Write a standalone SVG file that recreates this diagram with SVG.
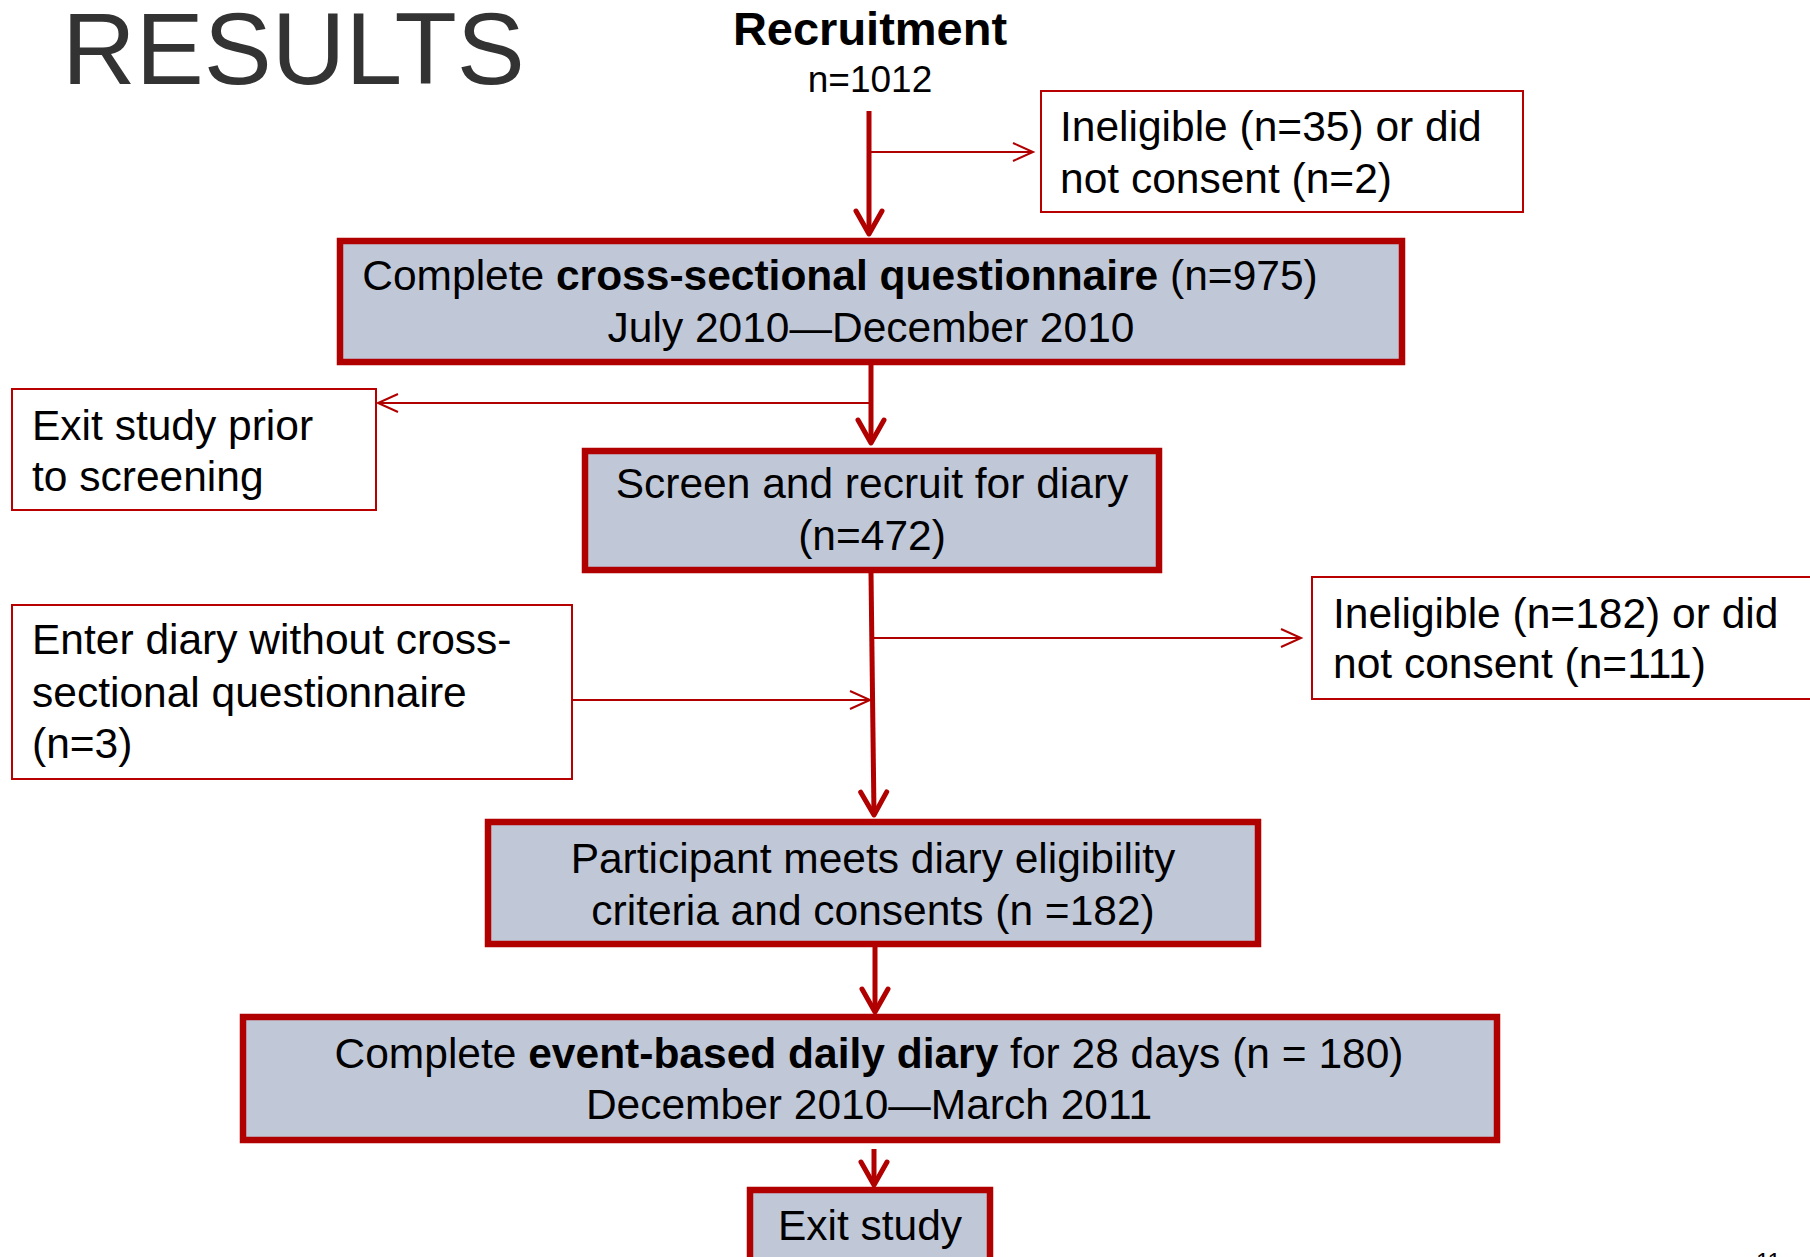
<svg xmlns="http://www.w3.org/2000/svg" width="1810" height="1257" viewBox="0 0 1810 1257">
<style>
text{font-family:"Liberation Sans",Arial,sans-serif;fill:#000}
.t{font-size:42.5px}
.b{font-weight:bold}
.main{fill:#C0C8D8;stroke:#B00000;stroke-width:6.5}
.side{fill:#FFFFFF;stroke:#B80000;stroke-width:2}
.thick{stroke:#B00000;stroke-width:5;fill:none}
.thin{stroke:#B00000;stroke-width:2;fill:none}
</style>
<defs>
<marker id="ah" markerUnits="userSpaceOnUse" viewBox="-30 -20 34 40" refX="0" refY="0" markerWidth="34" markerHeight="40" orient="auto">
<path d="M-23,-13 L0,0 L-23,13" fill="none" stroke="#B00000" stroke-width="5" stroke-linecap="round" stroke-linejoin="round"/>
</marker>
<marker id="as" markerUnits="userSpaceOnUse" viewBox="-26 -14 30 28" refX="0" refY="0" markerWidth="30" markerHeight="28" orient="auto">
<path d="M-20,-9 L0,0 L-20,9" fill="none" stroke="#B00000" stroke-width="2"/>
</marker>
</defs>
<rect width="1810" height="1257" fill="#FFFFFF"/>
<text x="62" y="84" style="font-size:102px;fill:#333333">RESULTS</text>
<g id="recruitment">
<text class="b" x="870" y="45" text-anchor="middle" style="font-size:47px">Recruitment</text>
<text x="870" y="92" text-anchor="middle" style="font-size:37px">n=1012</text>
</g>
<g id="connectors">
<path class="thick" d="M869,111 L869,234" marker-end="url(#ah)"/>
<path class="thin" d="M869,152 L1033,152" marker-end="url(#as)"/>
<path class="thick" d="M871,365 L871,443" marker-end="url(#ah)"/>
<path class="thin" d="M871,403 L378,403" marker-end="url(#as)"/>
<path class="thick" d="M871,573 L874,815" marker-end="url(#ah)"/>
<path class="thin" d="M873,638 L1301,638" marker-end="url(#as)"/>
<path class="thin" d="M572,700 L870,700" marker-end="url(#as)"/>
<path class="thick" d="M875,947 L875,1012" marker-end="url(#ah)"/>
<path class="thick" d="M874,1149 L874,1185" marker-end="url(#ah)"/>
</g>
<g id="ineligible35">
<rect class="side" x="1041" y="91" width="482" height="121"/>
<text class="t" x="1060" y="141">Ineligible (n=35) or did</text>
<text class="t" x="1060" y="193">not consent (n=2)</text>
</g>
<g id="crosssectional">
<rect class="main" x="340" y="241" width="1062" height="121"/>
<text class="t" x="840" y="290" text-anchor="middle">Complete <tspan class="b">cross-sectional questionnaire</tspan> (n=975)</text>
<text class="t" x="871" y="342" text-anchor="middle">July 2010—December 2010</text>
</g>
<g id="exitprior">
<rect class="side" x="12" y="389" width="364" height="121"/>
<text class="t" x="32" y="440">Exit study prior</text>
<text class="t" x="32" y="491">to screening</text>
</g>
<g id="screen">
<rect class="main" x="585" y="451" width="574" height="119"/>
<text class="t" x="872" y="498" text-anchor="middle">Screen and recruit for diary</text>
<text class="t" x="872" y="550" text-anchor="middle">(n=472)</text>
</g>
<g id="ineligible182">
<rect class="side" x="1312" y="577" width="520" height="122"/>
<text class="t" x="1333" y="628">Ineligible (n=182) or did</text>
<text class="t" x="1333" y="678">not consent (n=111)</text>
</g>
<g id="enterdiary">
<rect class="side" x="12" y="605" width="560" height="174"/>
<text class="t" x="32" y="654">Enter diary without cross-</text>
<text class="t" x="32" y="707">sectional questionnaire</text>
<text class="t" x="32" y="758">(n=3)</text>
</g>
<g id="eligible">
<rect class="main" x="488" y="822" width="770" height="122"/>
<text class="t" x="873" y="873" text-anchor="middle">Participant meets diary eligibility</text>
<text class="t" x="873" y="925" text-anchor="middle">criteria and consents (n =182)</text>
</g>
<g id="diary">
<rect class="main" x="243" y="1017" width="1254" height="123"/>
<text class="t" x="869" y="1068" text-anchor="middle">Complete <tspan class="b">event-based daily diary</tspan> for 28 days (n = 180)</text>
<text class="t" x="869" y="1119" text-anchor="middle">December 2010—March 2011</text>
</g>
<g id="exitstudy">
<rect class="main" x="750" y="1190" width="240" height="100"/>
<text class="t" x="870" y="1240" text-anchor="middle">Exit study</text>
</g>
<text x="1756" y="1270" style="font-size:24px">11</text>
</svg>
